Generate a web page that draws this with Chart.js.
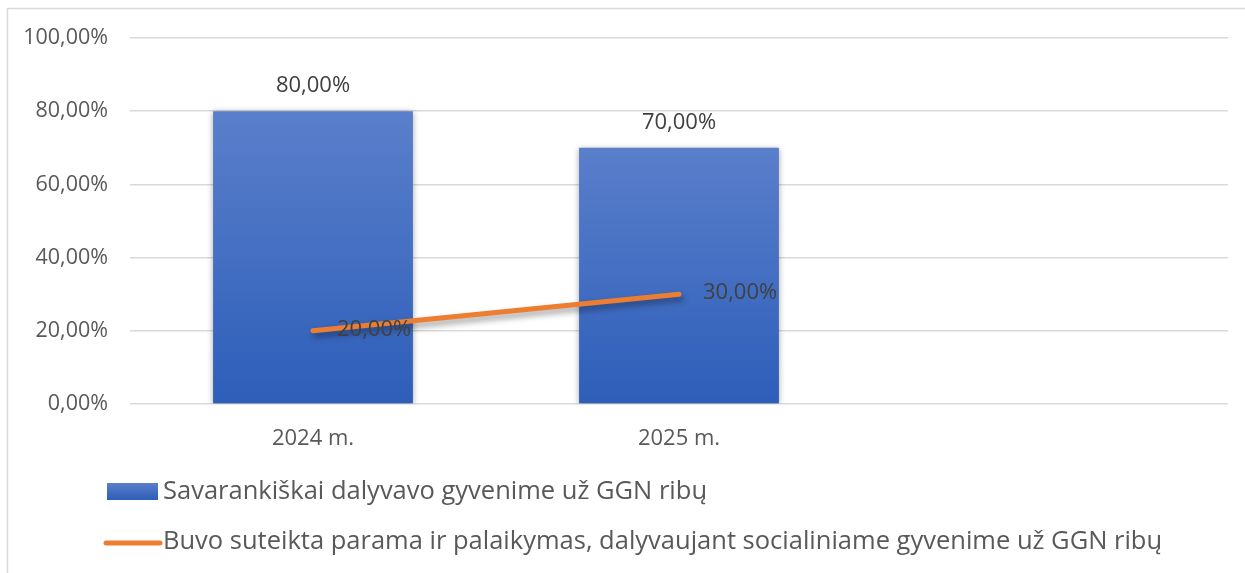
<!DOCTYPE html>
<html lang="lt">
<head>
    <meta charset="UTF-8">
    <title>GGN</title>
    <script src="https://cdn.jsdelivr.net/npm/chart.js"></script>
    <style>
        body {
            margin: 0;
            background: #ffffff;
        }
        #wrap {
            width: 1245px;
            height: 573px;
        }
    </style>
</head>
<body>
    <div id="wrap"><canvas id="chart"></canvas></div>

    <script>
        const categories = ['2024 m.', '2025 m.', ''];
        const barLabel = 'Savarankiškai dalyvavo gyvenime už GGN ribų';
        const barValues = [80, 70, null];
        const lineLabel = 'Buvo suteikta parama ir palaikymas, dalyvaujant socialiniame gyvenime už GGN ribų';
        const lineValues = [20, 30, null];
        const yTicks = [0, 20, 40, 60, 80, 100];

        const FONT = '"Open Sans", "Noto Sans", sans-serif';
        const TEXT = '#595959';

        function pct(v) {
            return v.toFixed(2).replace('.', ',') + '%';
        }

        // frame round the whole chart (cut off at right and bottom like the source)
        const framePlugin = {
            id: 'frame',
            beforeDraw(chart) {
                const c = chart.ctx;
                c.save();
                c.strokeStyle = '#d9d9d9';
                c.lineWidth = 1.5;
                c.strokeRect(7.5, 8.5, 1400, 1000);
                c.restore();
            }
        };

        // soft shadow under bars and line
        const shadowPlugin = {
            id: 'shadow',
            beforeDatasetDraw(chart, args) {
                const c = chart.ctx;
                c.save();
                if (args.meta.type === 'bar') {
                    c.shadowColor = 'rgba(0,0,0,0.35)';
                    c.shadowBlur = 6;
                    c.shadowOffsetX = 0;
                    c.shadowOffsetY = 1;
                } else {
                    c.shadowColor = 'rgba(0,0,0,0.4)';
                    c.shadowBlur = 6;
                    c.shadowOffsetX = 2;
                    c.shadowOffsetY = 4;
                }
            },
            afterDatasetDraw(chart) {
                chart.ctx.restore();
            }
        };

        // value labels + legend
        const labelPlugin = {
            id: 'labels',
            afterDatasetsDraw(chart) {
                const c = chart.ctx;
                c.save();
                c.font = '22px ' + FONT;
                c.fillStyle = '#404040';

                chart.getDatasetMeta(0).data.forEach((bar, i) => {
                    const v = barValues[i];
                    if (v == null) return;
                    c.textAlign = 'center';
                    c.textBaseline = 'middle';
                    c.fillText(pct(v), bar.x, bar.y - 25);
                });
                chart.getDatasetMeta(1).data.forEach((pt, i) => {
                    const v = lineValues[i];
                    if (v == null) return;
                    c.textAlign = 'left';
                    c.textBaseline = 'middle';
                    c.fillText(pct(v), pt.x + 24, pt.y - 1);
                });

                // legend
                c.font = '25.5px ' + FONT;
                c.textAlign = 'left';
                c.textBaseline = 'middle';

                const g = c.createLinearGradient(0, 483, 0, 500);
                g.addColorStop(0, '#5a7fcb');
                g.addColorStop(1, '#2d5eb9');
                c.fillStyle = g;
                c.fillRect(107, 483, 51, 17);
                c.fillStyle = TEXT;
                c.fillText(barLabel, 163, 492);

                c.strokeStyle = '#ed7d31';
                c.lineWidth = 5;
                c.lineCap = 'round';
                c.beginPath();
                c.moveTo(106, 543);
                c.lineTo(160, 543);
                c.stroke();
                c.fillText(lineLabel, 163, 542);
                c.restore();
            }
        };

        function barGradient(context) {
            const chart = context.chart;
            const y = chart.scales.y;
            if (!chart.chartArea || !y || context.raw == null) return '#4472c4';
            const top = y.getPixelForValue(context.raw);
            const bottom = y.getPixelForValue(0);
            const g = chart.ctx.createLinearGradient(0, top, 0, bottom);
            g.addColorStop(0, '#5a7fcb');
            g.addColorStop(1, '#2d5eb9');
            return g;
        }

        new Chart(document.getElementById('chart'), {
            data: {
                labels: categories,
                datasets: [
                    {
                        type: 'bar',
                        label: barLabel,
                        data: barValues,
                        backgroundColor: barGradient,
                        categoryPercentage: 1,
                        barPercentage: 0.546,
                        order: 2
                    },
                    {
                        type: 'line',
                        label: lineLabel,
                        data: lineValues,
                        borderColor: '#ed7d31',
                        borderWidth: 5,
                        borderCapStyle: 'round',
                        pointRadius: 0,
                        tension: 0,
                        order: 1
                    }
                ]
            },
            options: {
                responsive: true,
                maintainAspectRatio: false,
                animation: false,
                layout: {
                    padding: { top: 38, right: 17, bottom: 109, left: 0 }
                },
                plugins: {
                    legend: { display: false },
                    tooltip: { enabled: false }
                },
                scales: {
                    x: {
                        afterFit(scale) { scale.height = 60; },
                        grid: { display: false },
                        border: { display: false },
                        ticks: {
                            color: TEXT,
                            font: { family: FONT, size: 22 },
                            padding: 14
                        }
                    },
                    y: {
                        min: 0,
                        max: 100,
                        afterFit(scale) { scale.width = 130; },
                        afterBuildTicks(scale) {
                            scale.ticks = yTicks.map(v => ({ value: v }));
                        },
                        grid: {
                            color: '#d9d9d9',
                            lineWidth: 1.5,
                            drawTicks: false
                        },
                        border: { display: false },
                        ticks: {
                            color: TEXT,
                            font: { family: FONT, size: 21.5 },
                            padding: 22,
                            callback: v => pct(v)
                        }
                    }
                }
            },
            plugins: [framePlugin, shadowPlugin, labelPlugin]
        });
    </script>
</body>
</html>
